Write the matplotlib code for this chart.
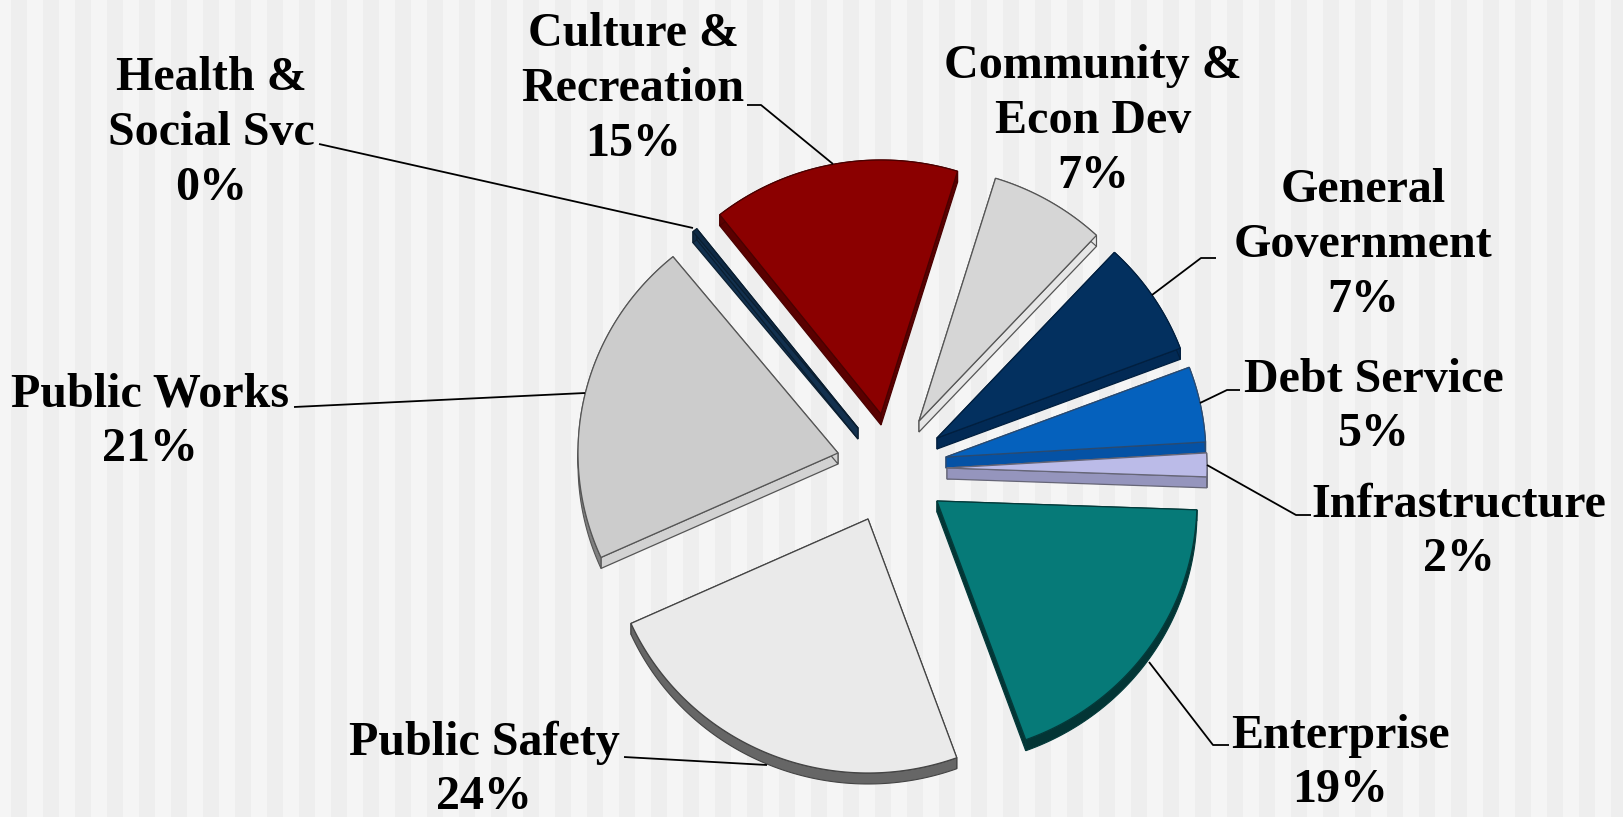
import numpy as np
import matplotlib
matplotlib.use('Agg')
import matplotlib.pyplot as plt

plt.rcParams['font.family'] = ['Liberation Serif', 'DejaVu Serif']

# budget shares, clockwise starting from just below 3 o'clock
departments = ['Enterprise', 'Public Safety', 'Public Works', 'Health &\nSocial Svc',
               'Culture &\nRecreation', 'Community &\nEcon Dev', 'General\nGovernment',
               'Debt Service', 'Infrastructure']
shares = [18.9, 23.8, 20.8, 0.3, 15.4, 7.2, 7.3, 4.8, 1.5]

top_colors = ['#067A78', '#EAEAEA', '#CCCCCC', '#0F2A45', '#8B0000',
              '#D6D6D6', '#03305F', '#0561BD', '#BBBBE8']
rim_colors = ['#033535', '#666666', '#808080', '#0F2A45', '#5A0000',
              '#E6E6E6', '#022A55', '#0552A5', '#9595BD']
cut_colors = ['#033535', '#B0B0B0', '#D2D2D2', '#12304E', '#5A0000',
              '#E6E6E6', '#022A55', '#0552A5', '#9595BD']
edge_colors = ['#033A3A', '#444444', '#555555', '#0A1E30', '#4A0000',
               '#555555', '#011F3F', '#2A4A70', '#666677']

# tip of each exploded slice, in figure pixels
tips = [(937, 501), (868, 519), (838, 453), (858, 428), (881, 414),
        (919, 421), (937, 438), (946, 457), (947, 468)]

label_pos = [(1340, 763), (484, 770), (150, 422), (211, 133), (633, 89),
             (1093, 121), (1363, 245), (1374, 407), (1459, 532)]

leaders = [
    [(1149, 662), (1213, 745), (1229, 745)],
    [(624, 757), (767, 765)],
    [(294, 407), (585, 393)],
    [(319, 144), (693, 228)],
    [(747, 105), (761, 105), (833, 164)],
    None,
    [(1216, 258), (1201, 258), (1152, 295)],
    [(1200, 403), (1227, 390), (1240, 390)],
    [(1207, 465), (1296, 515), (1311, 515)],
]

RX, RY = 260, 254
DEPTH = 11
START = -2.0

fig = plt.figure(figsize=(16.23, 8.17), dpi=100, facecolor='#F5F5F5')
ax = fig.add_axes([0, 0, 1, 1])
ax.set_xlim(0, 1623)
ax.set_ylim(817, 0)
ax.axis('off')

# vertical pinstripes behind the pie
for x in range(11, 1623, 32):
    ax.axvspan(x, x + 16, color='#EEEEEE', lw=0, zorder=0)

bounds = START - np.cumsum([0] + shares) * 3.6

for i, name in enumerate(departments):
    t = np.radians(np.linspace(bounds[i], bounds[i + 1], 80))
    cx, cy = tips[i]
    arc_x = cx + RX * np.cos(t)
    arc_y = cy - RY * np.sin(t)

    # cut faces first, then the rim, then the top of the slice
    for px, py in [([cx, arc_x[0]], [cy, arc_y[0]]), ([cx, arc_x[-1]], [cy, arc_y[-1]])]:
        ax.fill(px + px[::-1], py + [v + DEPTH for v in py[::-1]], fc=cut_colors[i],
                ec=edge_colors[i], lw=0.9, zorder=2 + i * 0.1)
    ax.fill(np.r_[arc_x, arc_x[::-1]], np.r_[arc_y, arc_y[::-1] + DEPTH], fc=rim_colors[i],
            ec=edge_colors[i], lw=0.8, zorder=2 + i * 0.1)
    ax.fill(np.r_[cx, arc_x], np.r_[cy, arc_y], fc=top_colors[i],
            ec=edge_colors[i], lw=0.9, zorder=3 + i * 0.1)

    lx, ly = label_pos[i]
    ax.text(lx, ly, f'{name}\n{shares[i]:.0f}%', ha='center', va='center', ma='center',
            fontsize=34.6, fontweight='bold', color='black', linespacing=1.31, zorder=6)

    if leaders[i]:
        xs, ys = zip(*leaders[i])
        ax.plot(xs, ys, color='black', lw=1.3, zorder=5, solid_capstyle='butt')

fig.savefig('out.png', dpi=100, facecolor=fig.get_facecolor())
